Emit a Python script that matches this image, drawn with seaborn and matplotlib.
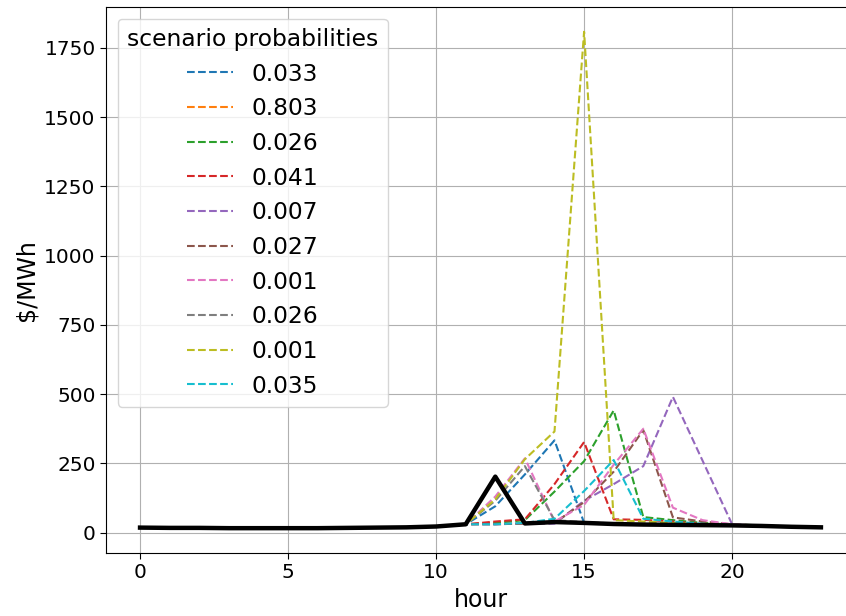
import numpy as np
import pandas as pd
import matplotlib
matplotlib.use("Agg")
import matplotlib.pyplot as plt
import seaborn as sns

hours = list(range(24))

# shared price path for the early hours (identical across scenarios)
early = [18, 17, 17, 16, 16, 16, 16, 17, 18, 19, 23]

probabilities = ["0.033", "0.803", "0.026", "0.041", "0.007",
                 "0.027", "0.001", "0.026", "0.001", "0.035"]

# scenario prices from hour 11 through hour 23
s0 = [30, 95, 210, 333, 35, 32, 30, 29, 28, 27, 25, 22, 19]
s1 = [30, 33, 32, 38, 34, 31, 29, 28, 27, 26, 24, 21, 19]
s2 = [30, 35, 45, 148, 258, 441, 56, 45, 35, 30, 26, 22, 19]
s3 = [30, 40, 48, 175, 327, 48, 46, 40, 32, 28, 25, 22, 19]
s4 = [30, 30, 33, 32, 115, 175, 240, 490, 260, 30, 25, 22, 19]
s5 = [30, 30, 33, 35, 110, 220, 370, 55, 40, 30, 25, 22, 19]
s6 = [30, 130, 268, 40, 100, 245, 375, 90, 45, 30, 25, 22, 19]
s7 = [30, 115, 240, 45, 38, 33, 30, 29, 28, 27, 25, 22, 19]
s8 = [30, 120, 265, 365, 1808, 45, 40, 35, 30, 27, 25, 22, 19]
s9 = [30, 30, 35, 50, 150, 262, 50, 40, 32, 28, 25, 22, 19]
scenarios = [s0, s1, s2, s3, s4, s5, s6, s7, s8, s9]

# realised price
actual = [18, 17, 17, 16, 16, 16, 16, 17, 18, 19, 22,
          30, 202, 33, 38, 35, 31, 29, 28, 27, 26, 24, 21, 19]

palette = sns.color_palette("tab10", 10)

fig = plt.figure(figsize=(8.46, 6.16), dpi=100)
ax = fig.add_axes([0.1253, 0.1023, 0.8853, 0.8864])

for i, (prob, tail) in enumerate(zip(probabilities, scenarios)):
    df = pd.DataFrame({"hour": hours, "price": early + tail})
    sns.lineplot(data=df, x="hour", y="price", ax=ax, color=palette[i],
                 linestyle="--", linewidth=1.5, label=prob)

df_act = pd.DataFrame({"hour": hours, "price": actual})
sns.lineplot(data=df_act, x="hour", y="price", ax=ax, color="black",
             linewidth=3.2, label="_nolegend_")

ax.set_xticks([0, 5, 10, 15, 20])
ax.set_yticks([0, 250, 500, 750, 1000, 1250, 1500, 1750])
ax.tick_params(labelsize=14.5, length=4)
ax.set_xlabel("hour", fontsize=17)
ax.set_ylabel("$/MWh", fontsize=17)
ax.grid(True, color="#b0b0b0", linewidth=0.8)
ax.set_axisbelow(True)

leg = ax.legend(title="scenario probabilities", loc="upper left",
                fontsize=16.8, title_fontsize=16.8, labelspacing=0.5)

fig.savefig("out.png", dpi=100)
